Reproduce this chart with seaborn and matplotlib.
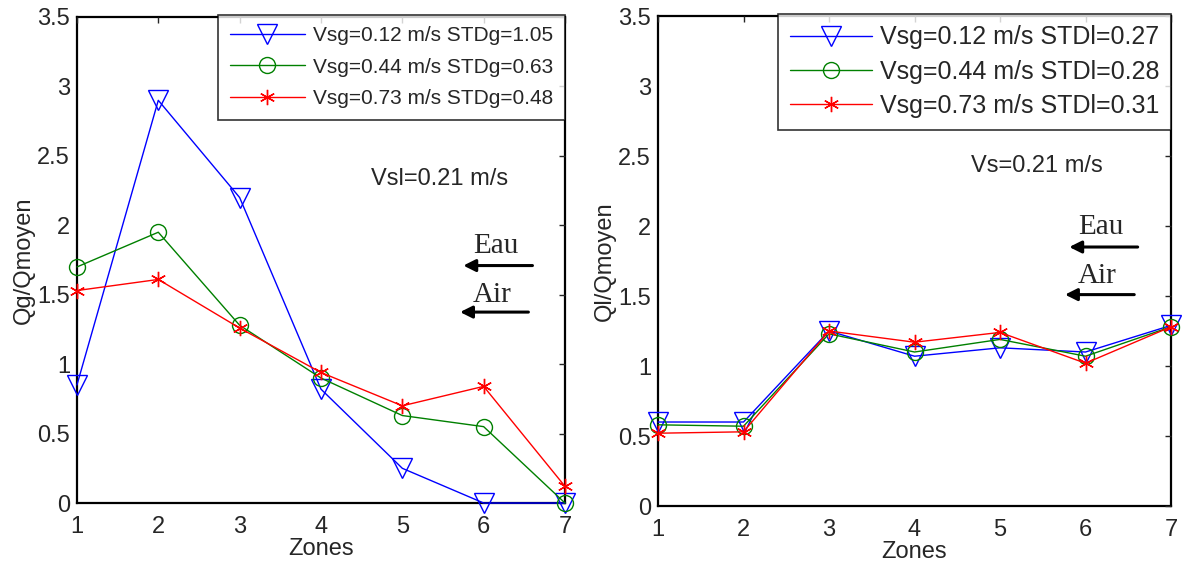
import matplotlib
matplotlib.use("Agg")
import matplotlib.pyplot as plt
import pandas as pd
import seaborn as sns

zones = [1, 2, 3, 4, 5, 6, 7]

# left panel: gas flow ratio Qg/Qmoyen
gas_012 = [0.85, 2.90, 2.20, 0.82, 0.25, 0.00, 0.00]
gas_044 = [1.70, 1.95, 1.28, 0.90, 0.63, 0.55, 0.00]
gas_073 = [1.53, 1.61, 1.26, 0.94, 0.70, 0.84, 0.12]
gas_labels = ["Vsg=0.12 m/s STDg=1.05",
              "Vsg=0.44 m/s STDg=0.63",
              "Vsg=0.73 m/s STDg=0.48"]

# right panel: liquid flow ratio Ql/Qmoyen
liq_012 = [0.60, 0.60, 1.25, 1.07, 1.13, 1.10, 1.29]
liq_044 = [0.58, 0.57, 1.23, 1.10, 1.19, 1.07, 1.28]
liq_073 = [0.52, 0.53, 1.25, 1.17, 1.24, 1.02, 1.28]
liq_labels = ["Vsg=0.12 m/s STDl=0.27",
              "Vsg=0.44 m/s STDl=0.28",
              "Vsg=0.73 m/s STDl=0.31"]

y_ticks = [0, 0.5, 1, 1.5, 2, 2.5, 3, 3.5]
y_tick_labels = ["0", "0.5", "1", "1.5", "2", "2.5", "3", "3.5"]

colors = ["#0000ff", "#008000", "#ff0000"]
markers = ["v", "o", (6, 2, 0)]
marker_sizes = [14, 11.5, 11]


def to_long(series, labels):
    frames = []
    for vals, lab in zip(series, labels):
        frames.append(pd.DataFrame({"zone": zones, "value": vals, "serie": lab}))
    return pd.concat(frames, ignore_index=True)


def draw_panel(ax, df, labels, ylabel, vtext, vpos, eau_pos, eau_arrow, air_pos, air_arrow,
               leg_kw):
    for lab, col, mk, ms in zip(labels, colors, markers, marker_sizes):
        sub = df[df["serie"] == lab]
        sns.lineplot(data=sub, x="zone", y="value", ax=ax, color=col,
                     marker=mk, markersize=ms, markerfacecolor="none",
                     markeredgecolor=col, markeredgewidth=1.0,
                     linewidth=1.0, label=lab, clip_on=False)
    ax.set_xlim(1, 7)
    ax.set_ylim(0, 3.5)
    ax.set_xticks(zones)
    ax.set_xticklabels([str(z) for z in zones])
    ax.set_yticks(y_ticks)
    ax.set_yticklabels(y_tick_labels)
    ax.tick_params(direction="in", top=True, right=True, labelsize=17, length=4,
                   width=1.0)
    ax.tick_params(axis="x", pad=9)
    ax.tick_params(axis="y", pad=5)
    for sp in ax.spines.values():
        sp.set_linewidth(1.6)
        sp.set_color("black")
        sp.set_zorder(0.5)
    ax.set_xlabel("Zones", fontsize=17, labelpad=0)
    ax.set_ylabel(ylabel, fontsize=17, labelpad=2)
    leg = ax.legend(loc="upper right", frameon=True, fancybox=False,
                    borderaxespad=0, bbox_to_anchor=(1.0, 1.005), **leg_kw)
    leg.get_frame().set_edgecolor("black")
    leg.get_frame().set_linewidth(1.2)
    ax.text(vpos[0], vpos[1], vtext, fontsize=17, ha="center", va="center")
    ax.text(eau_pos[0], eau_pos[1], "Eau", fontsize=21, ha="center", va="baseline",
            family="Liberation Serif")
    ax.text(air_pos[0], air_pos[1], "Air", fontsize=21, ha="center", va="baseline",
            family="Liberation Serif")
    for a in (eau_arrow, air_arrow):
        ax.annotate("", xy=a[1], xytext=a[0],
                    arrowprops=dict(arrowstyle="-|>", color="black", lw=2.2,
                                    mutation_scale=18, shrinkA=0, shrinkB=0))


sns.set_style("white")
plt.rcParams["font.family"] = ["Liberation Sans", "DejaVu Sans"]

fig = plt.figure(figsize=(11.82, 5.76), dpi=100)
ax1 = fig.add_axes([0.0651, 0.1267, 0.4129, 0.8438])
ax2 = fig.add_axes([0.5567, 0.1215, 0.434, 0.8507])

draw_panel(ax1, to_long([gas_012, gas_044, gas_073], gas_labels), gas_labels,
           "Qg/Qmoyen", "Vsl=0.21 m/s", (5.46, 2.33),
           (6.15, 1.80), ((6.6, 1.71), (5.75, 1.71)),
           (6.10, 1.45), ((6.55, 1.375), (5.71, 1.375)),
           dict(fontsize=15, handlelength=3.6, labelspacing=0.61,
                borderpad=0.55, handletextpad=0.4))
draw_panel(ax2, to_long([liq_012, liq_044, liq_073], liq_labels), liq_labels,
           "Ql/Qmoyen", "Vs=0.21 m/s", (5.43, 2.43),
           (6.18, 1.94), ((6.61, 1.85), (5.81, 1.85)),
           (6.13, 1.59), ((6.57, 1.51), (5.76, 1.51)),
           dict(fontsize=18, handlelength=3.3, labelspacing=0.41,
                borderpad=0.47, handletextpad=0.3))

fig.savefig("out.png", dpi=100)
